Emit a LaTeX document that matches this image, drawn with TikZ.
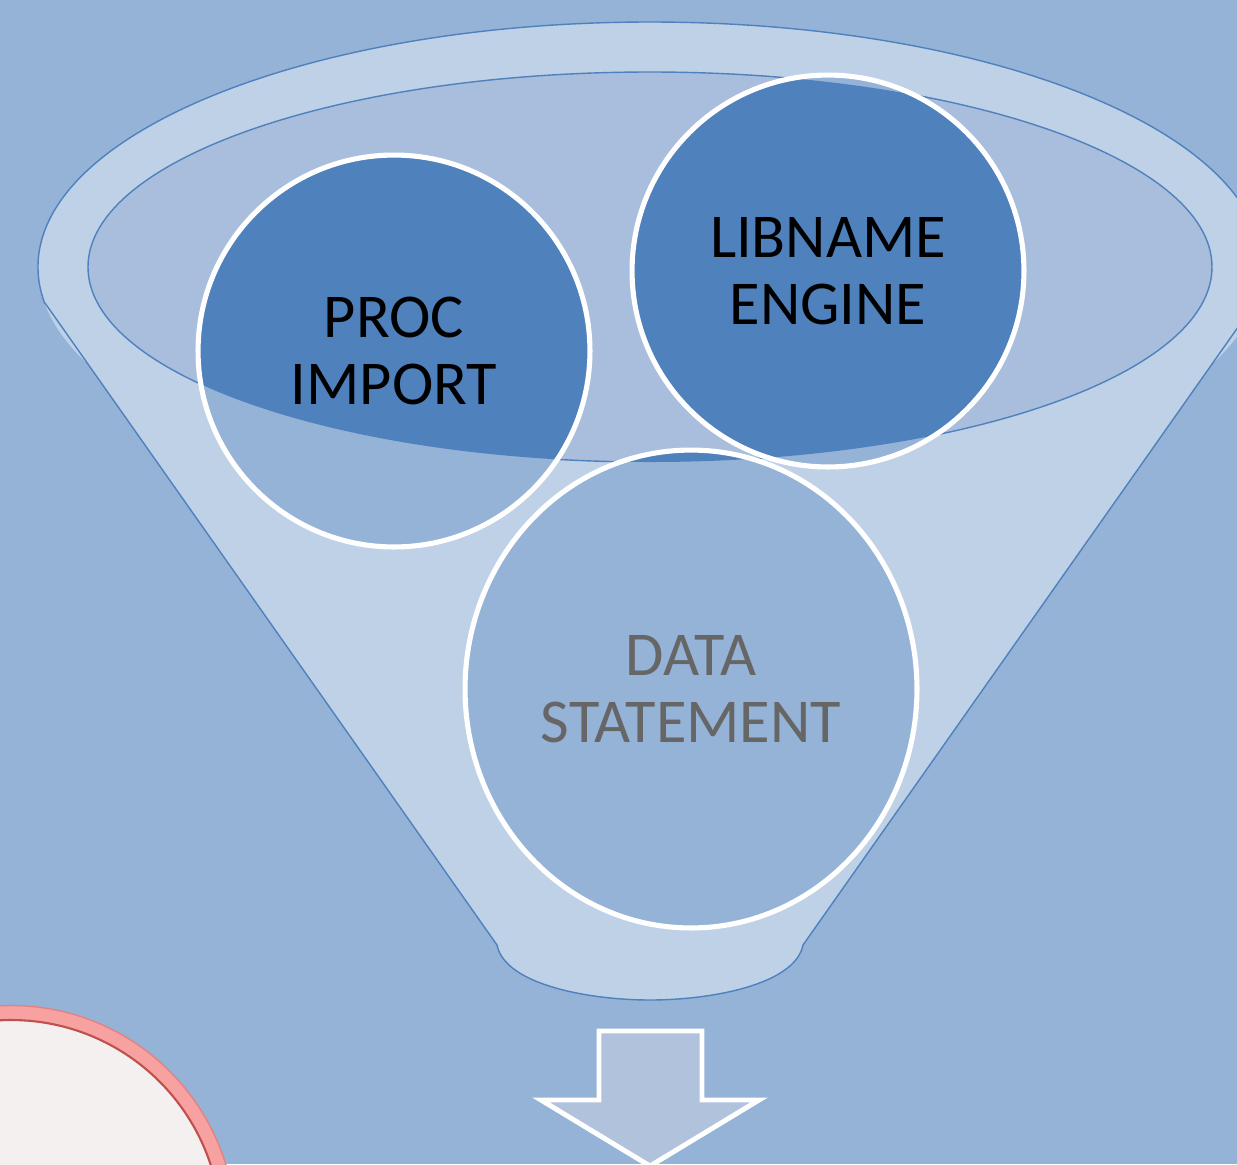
\documentclass[tikz,border=0pt]{standalone}
\usepackage{fontspec}
\setmainfont{Carlito}
\usetikzlibrary{shapes.geometric}
\definecolor{bgblue}{HTML}{94B3D7}
\definecolor{funnellight}{HTML}{BFD1E7}
\definecolor{innerfill}{HTML}{A9BEDC}
\definecolor{edgeblue}{HTML}{4F81BD}
\definecolor{darkcirc}{HTML}{4F81BD}
\definecolor{lightcirc}{HTML}{95B3D7}
\definecolor{datatext}{HTML}{666666}
\definecolor{arrowfill}{HTML}{B0C2DC}
\definecolor{ringpink}{HTML}{F7A1A1}
\definecolor{ringedge}{HTML}{E08383}
\definecolor{ringinner}{HTML}{C0504D}
\definecolor{redfill}{HTML}{F5F0F0}
\tikzset{
  circnode/.style={circle, draw=white, line width=2.9pt, minimum size=7.84cm, inner sep=0pt, align=center, font=\fontsize{35.5}{38}\selectfont},
  datanode/.style={ellipse, draw=white, line width=2.9pt, minimum width=9.04cm, minimum height=9.56cm, inner sep=0pt, align=center, text=datatext, font=\fontsize{35.5}{38}\selectfont},
  funneledge/.style={draw=edgeblue, line width=0.8pt},
  arrowshape/.style={draw=white, line width=2.8pt, fill=arrowfill, line join=miter},
}
\begin{document}
\begin{tikzpicture}[x=0.02cm,y=-0.02cm]
\useasboundingbox (0,0) rectangle (1237,1164);
\clip (0,0) rectangle (1237,1164);
\fill[bgblue] (0,0) rectangle (1237,1164);
% funnel body
\fill[funnellight] (650,267) ellipse [x radius=612, y radius=245];
\fill[funnellight] (45,303) -- (497,945) .. controls (505,985) and (590,1000) .. (650,1000) .. controls (710,1000) and (795,985) .. (803,945) -- (1255,303) -- cycle;
\begin{scope}
  \clip (-100,-100) rectangle (1400,303);
  \draw[funneledge] (650,267) ellipse [x radius=612, y radius=245];
\end{scope}
\draw[funneledge] (45,303) -- (497,945) .. controls (505,985) and (590,1000) .. (650,1000) .. controls (710,1000) and (795,985) .. (803,945) -- (1255,303);
% inner ellipse
\fill[innerfill] (650,267) ellipse [x radius=562, y radius=195];
\draw[funneledge] (650,267) ellipse [x radius=562, y radius=195];
% circle fills
\fill[lightcirc] (394,351) circle (196);
\fill[lightcirc] (828,271) circle (196);
\fill[lightcirc] (691,689) ellipse [x radius=226, y radius=239];
\begin{scope}
  \clip (650,267) ellipse [x radius=562, y radius=195];
  \fill[darkcirc] (394,351) circle (196);
  \fill[darkcirc] (828,271) circle (196);
  \fill[darkcirc] (691,689) ellipse [x radius=226, y radius=239];
\end{scope}
% circle nodes
\node[circnode] (proc) at (394,351) {PROC\\IMPORT};
\node[circnode] (libname) at (828,271) {LIBNAME\\ENGINE};
\node[datanode] (data) at (691,689) {DATA\\STATEMENT};
% red circle
\fill[ringpink] (11,1230) circle (225);
\draw[ringedge, line width=0.8pt] (11,1230) circle (224.5);
\fill[redfill] (11,1230) circle (210);
\draw[ringinner, line width=1.2pt] (11,1230) circle (210);
% arrow
\draw[arrowshape] (599,1031) -- (702,1031) -- (702,1100) -- (759,1100) -- (650,1166) -- (541,1100) -- (599,1100) -- cycle;
\end{tikzpicture}
\end{document}
